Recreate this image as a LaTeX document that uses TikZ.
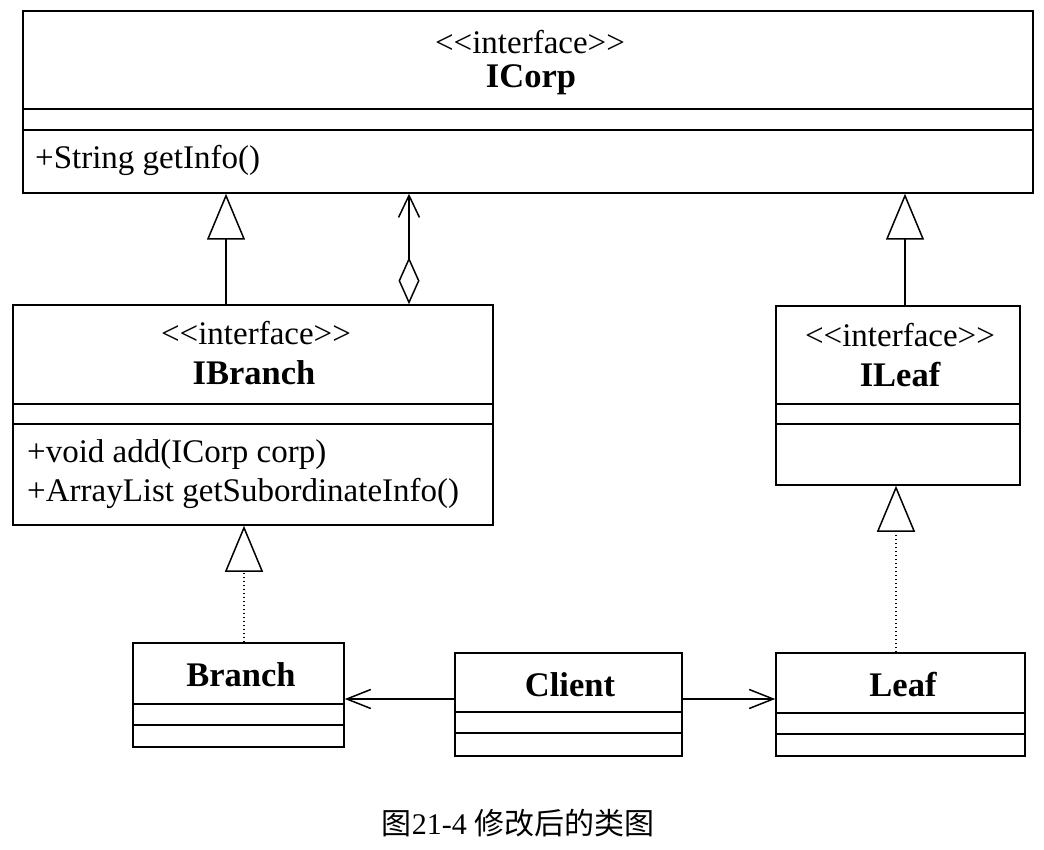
\documentclass[tikz,border=0pt]{standalone}
\usepackage{fontspec}
\setmainfont{Liberation Serif}
\newfontfamily\cjkfont{Noto Sans CJK SC}
\usetikzlibrary{arrows.meta}
\tikzset{
  umlbox/.style={draw, line width=1.5pt, inner sep=0pt, rectangle},
  compline/.style={line width=1.5pt},
  stereo/.style={inner sep=0pt, font=\fontsize{33}{39}\selectfont},
  cname/.style={inner sep=0pt, font=\fontsize{34.5}{41}\selectfont\bfseries},
  member/.style={inner sep=0pt, anchor=west, font=\fontsize{33}{39}\selectfont},
  gen/.style={line width=1.5pt, -{Triangle[open, length=46pt, width=38pt, line width=1.5pt]}},
  real/.style={line width=1.6pt, dash pattern=on 1.6pt off 2.4pt, -{Triangle[open, length=46pt, width=38pt, line width=1.5pt, sep=0pt]}},
  agg/.style={line width=1.5pt, {Diamond[open, length=47pt, width=21pt, line width=1.5pt]}-{Straight Barb[length=22pt, width=21pt, line width=1.5pt]}},
  assoc/.style={line width=1.5pt, -{Straight Barb[length=24pt, width=19pt, line width=1.5pt]}},
}
\begin{document}
\begin{tikzpicture}[x=1pt, y=-1pt]
\useasboundingbox (0,0) rectangle (1044,850);
\fill[white] (0,0) rectangle (1044,850);

% ICorp
\node[umlbox, minimum width=1010pt, minimum height=182pt] (icorp) at (528,102) {};
\draw[compline] (23,109) -- (1033,109);
\draw[compline] (23,130) -- (1033,130);
\node[stereo] (icorpst) at (530,42) {{<}{<}interface{>}{>}};
\node[cname] (icorpnm) at (531,80) {ICorp};
\node[member] (icorpm) at (35,160) {+String getInfo()};

% IBranch
\node[umlbox, minimum width=480pt, minimum height=220pt] (ibranch) at (253,415) {};
\draw[compline] (13,404) -- (493,404);
\draw[compline] (13,424) -- (493,424);
\node[stereo] (ibranchst) at (256,333) {{<}{<}interface{>}{>}};
\node[cname] (ibranchnm) at (254,373) {IBranch};
\node[member] (ibranchm1) at (27,455) {+void add(ICorp corp)};
\node[member] (ibranchm2) at (27,493) {+ArrayList getSubordinateInfo()};

% ILeaf
\node[umlbox, minimum width=244pt, minimum height=179pt] (ileaf) at (898,395.5) {};
\draw[compline] (776,404) -- (1020,404);
\draw[compline] (776,424) -- (1020,424);
\node[stereo] (ileafst) at (900,335) {{<}{<}interface{>}{>}};
\node[cname] (ileafnm) at (900,375) {ILeaf};

% Branch
\node[umlbox, minimum width=211pt, minimum height=104pt] (branch) at (238.5,695) {};
\draw[compline] (133,704) -- (344,704);
\draw[compline] (133,725) -- (344,725);
\node[cname] (branchnm) at (241,675) {Branch};

% Client
\node[umlbox, minimum width=227pt, minimum height=103pt] (client) at (568.5,704.5) {};
\draw[compline] (455,712) -- (682,712);
\draw[compline] (455,733) -- (682,733);
\node[cname] (clientnm) at (570,685) {Client};

% Leaf
\node[umlbox, minimum width=249pt, minimum height=103pt] (leaf) at (900.5,704.5) {};
\draw[compline] (776,713) -- (1025,713);
\draw[compline] (776,734) -- (1025,734);
\node[cname] (leafnm) at (903,685) {Leaf};

% connectors
\coordinate (g1) at ([xshift=-27pt]ibranch.north);
\draw[gen] (g1) -- (g1 |- icorp.south);
\coordinate (a1) at ([xshift=156pt]ibranch.north);
\draw[agg] (a1) -- (a1 |- icorp.south);
\coordinate (g2) at ([xshift=7pt]ileaf.north);
\draw[gen] (g2) -- (g2 |- icorp.south);
\coordinate (r1) at ([xshift=5.5pt]branch.north);
\draw[real] (r1) -- (r1 |- ibranch.south);
\coordinate (r2) at ([xshift=-4.5pt]leaf.north);
\draw[real] (r2) -- (r2 |- ileaf.south);
\coordinate (c1) at ([yshift=5.5pt]client.west);
\draw[assoc] (c1) -- (c1 -| branch.east);
\coordinate (c2) at ([yshift=5.5pt]client.east);
\draw[assoc] (c2) -- (c2 -| leaf.west);

% caption
\node[inner sep=0pt, font=\fontsize{30}{36}\selectfont] (caption) at (518,823) {{\cjkfont 图}21-4 {\cjkfont 修改后的类图}};
\end{tikzpicture}
\end{document}
